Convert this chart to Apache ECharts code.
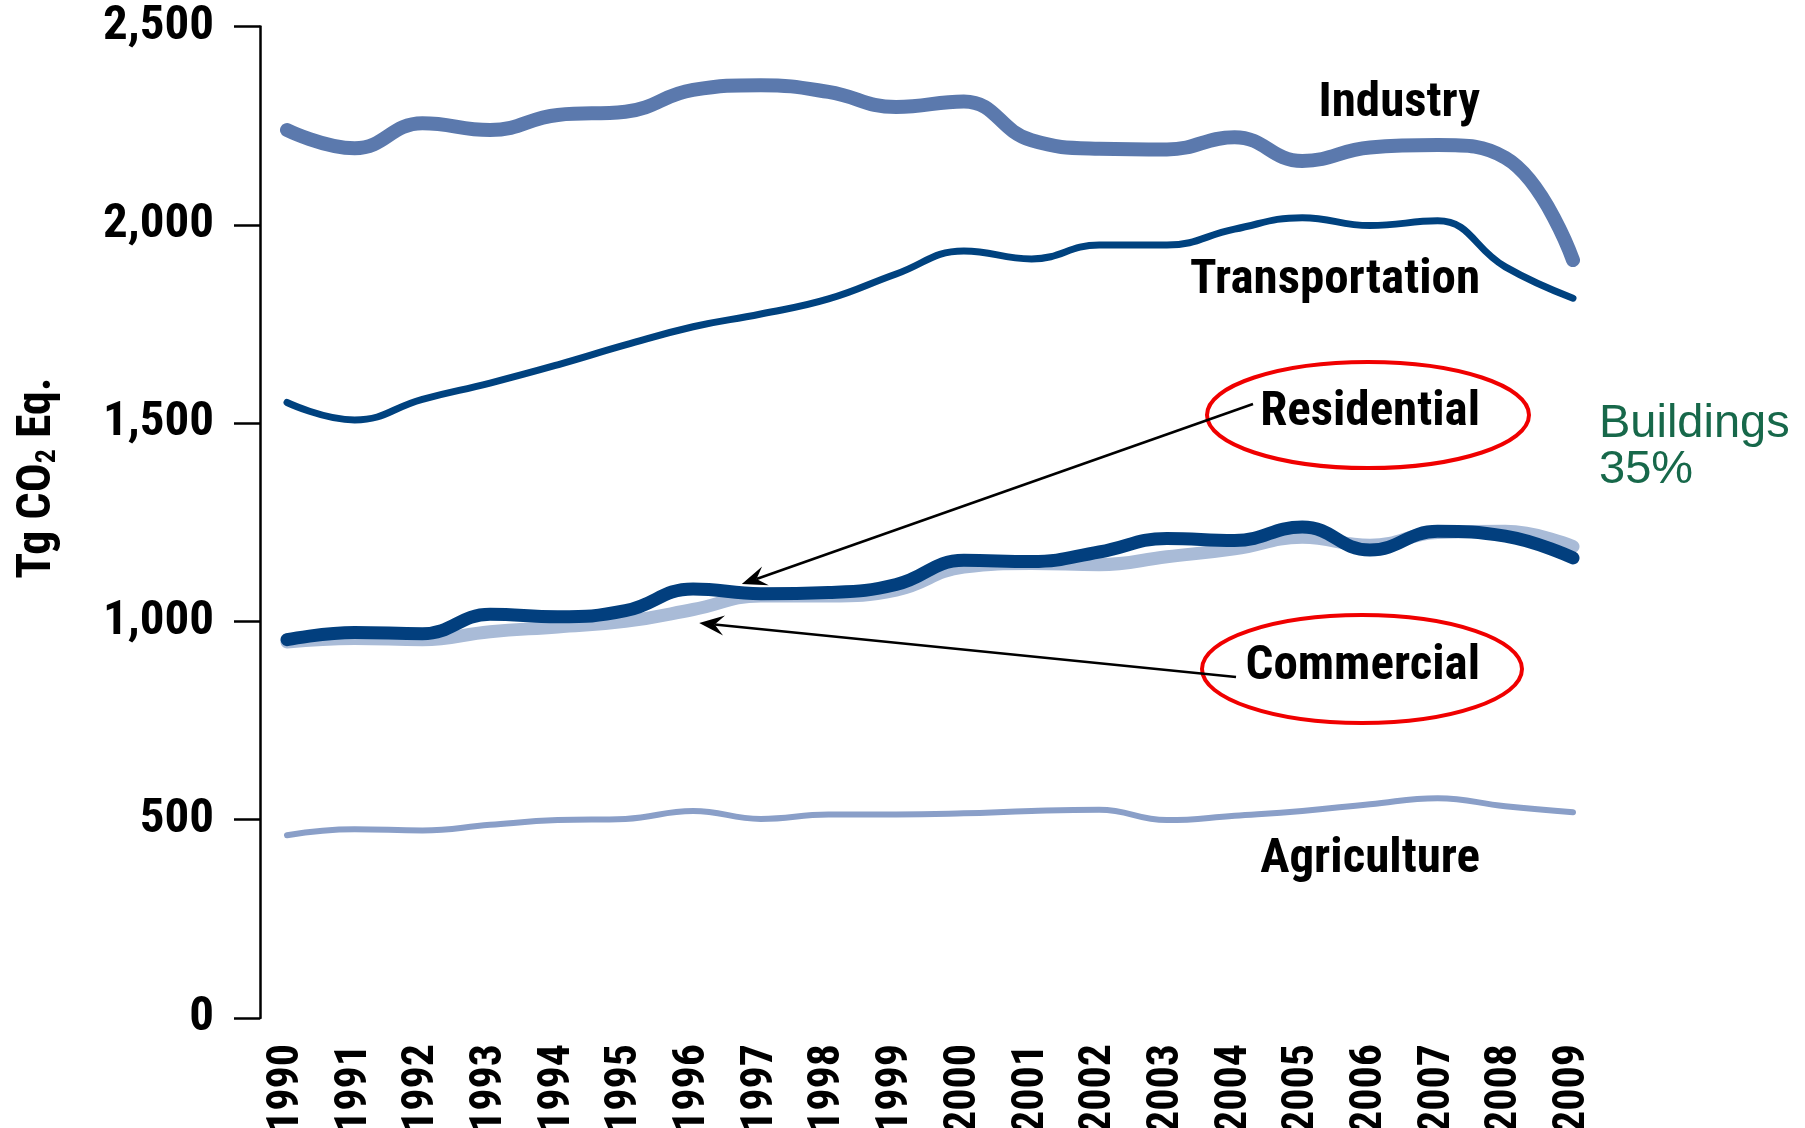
<!DOCTYPE html>
<html>
<head>
<meta charset="utf-8">
<title>CO2 emissions by end-use sector</title>
<script src="https://cdn.jsdelivr.net/npm/echarts@6/dist/echarts.min.js"></script>
<style>
  html, body { margin: 0; padding: 0; background: #fff; }
  #chart { width: 1805px; height: 1128px; }
</style>
</head>
<body>
<div id="chart"></div>
<script>
// values (Tg CO2 Eq.)
const years = [1990, 1991, 1992, 1993, 1994, 1995, 1996, 1997, 1998, 1999,
  2000, 2001, 2002, 2003, 2004, 2005, 2006, 2007, 2008, 2009]
const industry = [2239, 2193, 2256, 2239, 2277, 2285, 2340, 2352, 2335, 2297,
  2311, 2213, 2192, 2190, 2221, 2161, 2195, 2201, 2169, 1911]
const transportation = [1552, 1508, 1560, 1601, 1647, 1697, 1743, 1775, 1813, 1876,
  1934, 1914, 1949, 1949, 1989, 2018, 1998, 2010, 1894, 1815]
const residential = [954, 972, 969, 1018, 1012, 1027, 1082, 1070, 1073, 1093,
  1154, 1151, 1175, 1209, 1204, 1238, 1180, 1227, 1215, 1160]
const commercial = [948, 957, 954, 974, 986, 1000, 1030, 1064, 1064, 1079,
  1137, 1146, 1143, 1163, 1183, 1212, 1192, 1224, 1227, 1189]
const agriculture = [461, 476, 473, 487, 499, 502, 522, 502, 513, 513,
  516, 522, 525, 499, 510, 522, 539, 554, 534, 519]
const yTicks = [0, 500, 1000, 1500, 2000, 2500]

// where the two annotation arrows point (year, value)
const residentialTarget = [1996.72, 1094]
const commercialTarget = [1996.09, 996]

const condensed = '"Roboto Condensed", Roboto, sans-serif'

function pairs(arr) {
  return years.map((y, i) => [y, arr[i]])
}

function lineSeries(name, arr, color, width) {
  return {
    name: name,
    type: 'line',
    data: pairs(arr),
    smooth: 0.45,
    symbol: 'none',
    silent: true,
    lineStyle: { color: color, width: width, cap: 'round', join: 'round' },
  }
}

const chart = echarts.init(document.getElementById('chart'))

const option = {
  backgroundColor: '#fff',
  animation: false,
  grid: {
    left: 287,
    right: 232,
    top: 26.5,
    bottom: 110,
    containLabel: false,
    outerBoundsMode: 'none',
  },
  xAxis: {
    type: 'value',
    min: 1990,
    max: 2009,
    interval: 1,
    axisLine: { show: false },
    axisTick: { show: false },
    splitLine: { show: false },
    axisLabel: {
      rotate: 90,
      margin: 26,
      color: '#000',
      fontFamily: condensed,
      fontWeight: 'bold',
      fontSize: 44,
      formatter: v => String(v),
    },
  },
  yAxis: {
    type: 'value',
    min: yTicks[0],
    max: yTicks[yTicks.length - 1],
    interval: 500,
    offset: 27,
    axisLine: { show: true, lineStyle: { color: '#000', width: 2.5 } },
    axisTick: { show: true, length: 26, lineStyle: { color: '#000', width: 2.5 } },
    splitLine: { show: false },
    axisLabel: {
      margin: 46,
      color: '#000',
      fontFamily: condensed,
      fontWeight: 'bold',
      fontSize: 49,
      formatter: v => v.toLocaleString('en-US'),
    },
  },
  series: [
    lineSeries('Agriculture', agriculture, '#8a9fc8', 6),
    lineSeries('Commercial', commercial, '#a9bbd7', 13),
    lineSeries('Residential', residential, '#023f7e', 13),
    lineSeries('Transportation', transportation, '#00427f', 7),
    lineSeries('Industry', industry, '#5b79ad', 14),
  ],
}
chart.setOption(option)

// annotations: series names, red ovals, arrows, side note
function label(text, right, cy) {
  return {
    type: 'text',
    x: right,
    y: cy,
    silent: true,
    style: {
      text: text,
      fill: '#000',
      font: 'bold 49px ' + condensed,
      align: 'right',
      verticalAlign: 'middle',
    },
  }
}

function arrow(from, to) {
  const dx = to[0] - from[0]
  const dy = to[1] - from[1]
  const len = Math.sqrt(dx * dx + dy * dy)
  const ux = dx / len
  const uy = dy / len
  const px = -uy
  const py = ux
  const hl = 25
  const hw = 10
  const tip = to
  const back = [to[0] - ux * hl, to[1] - uy * hl]
  const notch = [to[0] - ux * hl * 0.62, to[1] - uy * hl * 0.62]
  return [
    {
      type: 'line',
      silent: true,
      shape: { x1: from[0], y1: from[1], x2: notch[0], y2: notch[1] },
      style: { stroke: '#000', lineWidth: 2.6 },
    },
    {
      type: 'polygon',
      silent: true,
      shape: {
        points: [
          tip,
          [back[0] + px * hw, back[1] + py * hw],
          notch,
          [back[0] - px * hw, back[1] - py * hw],
        ],
      },
      style: { fill: '#000' },
    },
  ]
}

const resTip = chart.convertToPixel({ gridIndex: 0 }, residentialTarget)
const comTip = chart.convertToPixel({ gridIndex: 0 }, commercialTarget)

const graphics = [
  {
    type: 'text',
    x: 38,
    y: 478,
    rotation: Math.PI / 2,
    silent: true,
    style: {
      text: 'Tg CO{sub|2} Eq.',
      fill: '#000',
      font: 'bold 48px ' + condensed,
      align: 'center',
      verticalAlign: 'middle',
      rich: {
        sub: {
          fill: '#000',
          font: 'bold 28px ' + condensed,
          verticalAlign: 'bottom',
          padding: [18, 0, 0, 0],
        },
      },
    },
  },
  label('Industry', 1480, 104),
  label('Transportation', 1480, 281),
  label('Residential', 1480, 413),
  label('Commercial', 1480, 667),
  label('Agriculture', 1480, 860),
  {
    type: 'ellipse',
    silent: true,
    shape: { cx: 1368, cy: 415, rx: 161, ry: 53 },
    style: { fill: null, stroke: '#f00000', lineWidth: 4 },
  },
  {
    type: 'ellipse',
    silent: true,
    shape: { cx: 1362, cy: 669, rx: 160, ry: 54 },
    style: { fill: null, stroke: '#f00000', lineWidth: 4 },
  },
  ...arrow([1253, 404], resTip),
  ...arrow([1236, 677], comTip),
  {
    type: 'text',
    x: 1599,
    y: 424,
    silent: true,
    style: {
      text: 'Buildings',
      fill: '#17684a',
      font: '47px "Liberation Sans", Arial, sans-serif',
      align: 'left',
      verticalAlign: 'middle',
    },
  },
  {
    type: 'text',
    x: 1599,
    y: 470,
    silent: true,
    style: {
      text: '35%',
      fill: '#17684a',
      font: '47px "Liberation Sans", Arial, sans-serif',
      align: 'left',
      verticalAlign: 'middle',
    },
  },
]

chart.setOption({ graphic: graphics })
</script>
</body>
</html>
